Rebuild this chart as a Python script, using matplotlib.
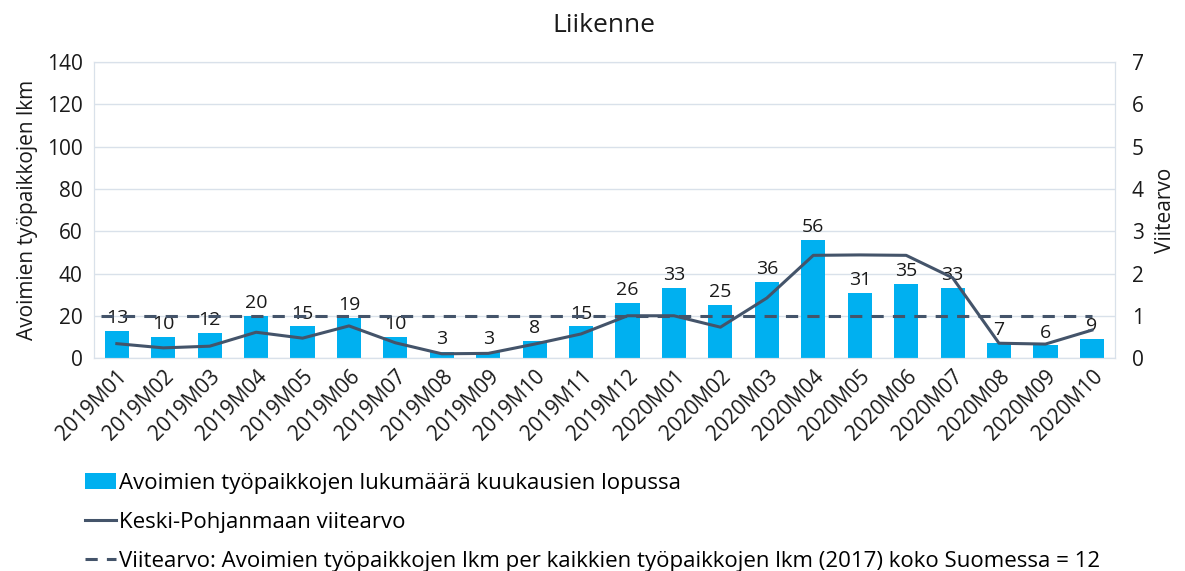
import numpy as np
import matplotlib.pyplot as plt

plt.rcParams['font.family'] = ['Open Sans', 'DejaVu Sans']

# data
kuukaudet = ["2019M01", "2019M02", "2019M03", "2019M04", "2019M05", "2019M06",
             "2019M07", "2019M08", "2019M09", "2019M10", "2019M11", "2019M12",
             "2020M01", "2020M02", "2020M03", "2020M04", "2020M05", "2020M06",
             "2020M07", "2020M08", "2020M09", "2020M10"]
avoimet = [13, 10, 12, 20, 15, 19, 10, 3, 3, 8, 15, 26,
           33, 25, 36, 56, 31, 35, 33, 7, 6, 9]
viitearvo_kp = [0.34, 0.24, 0.28, 0.61, 0.47, 0.76, 0.36, 0.10, 0.11, 0.33, 0.57, 1.0,
                1.0, 0.73, 1.42, 2.43, 2.44, 2.43, 1.9, 0.35, 0.33, 0.66]
viitearvo_suomi = 1.0

sininen = '#00B0F0'
tumma = '#44546A'
ruudukko = '#D9E1EA'
teksti = '#1a1a1a'

fig = plt.figure(figsize=(11.85, 5.71), dpi=100)
ax = fig.add_axes([0.079, 0.373, 0.862, 0.518])
ax2 = ax.twinx()

x = np.arange(len(kuukaudet))
ax.bar(x, avoimet, width=0.52, color=sininen, zorder=2,
       label='Avoimien työpaikkojen lukumäärä kuukausien lopussa')
for xi, v in zip(x, avoimet):
    ax.text(xi, v + 1.8, str(v), ha='center', va='bottom', fontsize=14, color=teksti, zorder=5)

ax2.plot(x, viitearvo_kp, color=tumma, lw=2.2, label='Keski-Pohjanmaan viitearvo')
ax2.plot([x[0] - 0.35, x[-1]], [viitearvo_suomi] * 2, color=tumma, lw=2.2,
         ls=(0, (4, 3)),
         label='Viitearvo: Avoimien työpaikkojen lkm per kaikkien työpaikkojen lkm (2017) koko Suomessa = 12')

ax.set_xlim(-0.5, len(kuukaudet) - 0.5)
ax.set_ylim(0, 140)
ax.set_yticks(range(0, 141, 20))
ax2.set_ylim(0, 7)
ax2.set_yticks(range(0, 8))

ax.grid(axis='y', color=ruudukko, lw=1, zorder=0)
ax.set_axisbelow(True)
for a in (ax, ax2):
    for s in a.spines.values():
        s.set_color(ruudukko)
    a.tick_params(length=0, labelsize=15, colors=teksti)
ax.tick_params(axis='y', pad=8)
ax2.tick_params(axis='y', pad=12)

ax.set_xticks(x)
ax.set_xticklabels(kuukaudet, rotation=45, ha='right', rotation_mode='anchor', fontsize=15)
ax.tick_params(axis='x', pad=6)

ax.set_ylabel('Avoimien työpaikkojen lkm', fontsize=15, color=teksti, labelpad=6)
ax2.set_ylabel('Viitearvo', fontsize=15, color=teksti, rotation=90, labelpad=8)
ax.set_title('Liikenne', fontsize=19, pad=22, color=teksti)

h1, l1 = ax.get_legend_handles_labels()
h2, l2 = ax2.get_legend_handles_labels()
fig.legend(h1 + h2, l1 + l2, loc='upper left', bbox_to_anchor=(0.072, 0.172),
           frameon=False, fontsize=16, handlelength=1.4, handletextpad=0.1,
           labelspacing=0.82, borderpad=0, borderaxespad=0)

fig.savefig('out.png', dpi=100)
